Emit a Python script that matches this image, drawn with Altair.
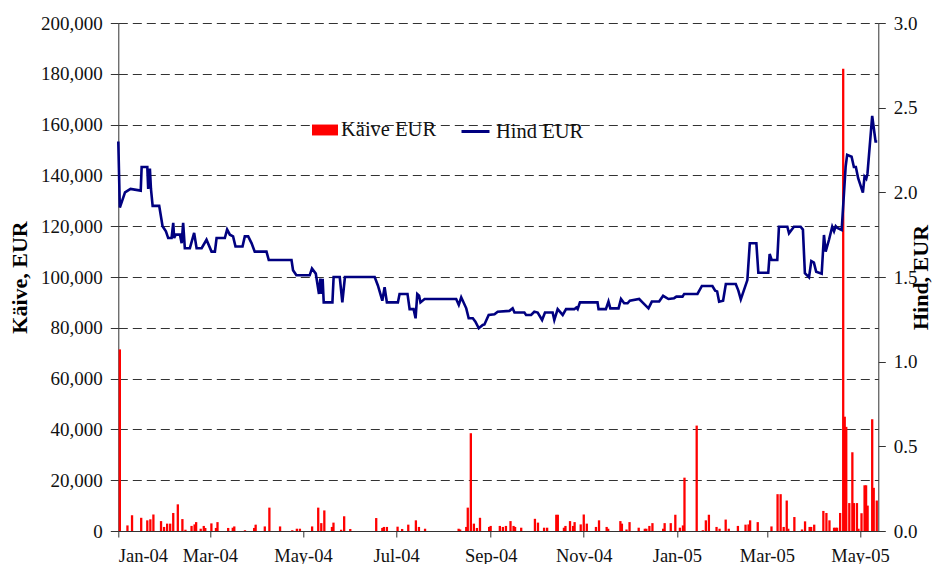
import altair as alt
import pandas as pd

START = "2004-01-01"

# Daily turnover (Käive EUR): day offset from 2004-01-01 and value
bar_day = [1, 6, 9, 15, 19, 21, 23, 28, 30, 32, 34, 36, 39, 42, 44, 48, 50, 51, 54, 56,
           57, 61, 64, 65, 72, 75, 76, 83, 89, 90, 96, 99, 106, 114, 117, 119, 127, 131, 133, 135,
           140, 141, 146, 148, 152, 169, 173, 174, 176, 183, 186, 190, 195, 197, 201, 223, 224, 228, 229, 231,
           233, 235, 237, 243, 244, 250, 252, 254, 257, 259, 260, 264, 273, 275, 279, 281, 287, 288, 292, 293,
           296, 298, 299, 303, 305, 307, 313, 315, 320, 321, 329, 330, 333, 335, 341, 345, 346, 348, 350, 357,
           358, 362, 365, 368, 370, 371, 379, 383, 385, 387, 392, 394, 398, 400, 406, 411, 413, 414, 419, 428,
           432, 434, 436, 438, 439, 443, 448, 450, 453, 454, 456, 462, 464, 466, 469, 470, 471, 473, 475, 476,
           477, 479, 481, 482, 484, 485, 487, 489, 490, 491, 494, 495, 497]
bar_value = [71500, 2200, 6200, 5200, 4200, 4600, 6500, 3900, 1600, 2900, 2900, 7100, 10500, 4700, 500, 2000, 2600, 3500, 900, 2000,
             1200, 3000, 1200, 3500, 1200, 1300, 1800, 300, 1200, 2500, 1800, 9200, 1800, 300, 900, 900, 1800, 9200, 3100, 8100,
             1600, 3300, 500, 5800, 800, 5100, 1200, 1600, 1600, 1700, 800, 2500, 4200, 1600, 900, 900, 600, 1600, 9200, 38500,
             2900, 1200, 5200, 1600, 2000, 2000, 1600, 2000, 3900, 2000, 1600, 1300, 4800, 3300, 1300, 1300, 6400, 6400, 1300, 2000,
             3900, 2000, 3500, 2600, 6500, 2900, 1600, 4200, 1600, 900, 3900, 2900, 600, 3500, 1300, 900, 900, 2000, 3100, 900,
             3100, 3100, 6400, 1300, 2200, 21000, 41500, 300, 4200, 6400, 1600, 900, 4500, 900, 2000, 2500, 2600, 4200, 3500, 1800,
             14500, 14500, 1600, 12000, 900, 5500, 600, 3800, 1600, 1600, 2500, 7900, 7100, 4200, 1300, 1300, 1300, 7100, 182000, 45000,
             41000, 11000, 31000, 11000, 11000, 900, 7000, 18000, 18000, 10000, 44000, 17000, 12000]

# Price (Hind EUR): day offset from 2004-01-01 and price
price_day = [0, 1, 4.4, 8, 14.7, 15.3, 19, 19.6, 20.7, 21.4, 22.5, 26.8, 29, 31.2, 32.7, 34.9, 36, 36.6, 37.6, 40.4,
             41.5, 42.5, 43.6, 46.9, 49.7, 51.3, 54.6, 57.8, 61.1, 63.3, 64.4, 69.8, 71.3, 73.1, 75.2, 76.8, 81.4, 82.9, 85.1, 87.3,
             89.4, 97.1, 98.6, 113.5, 114.5, 116.7, 125.4, 126.9, 129.4, 131.5, 132.4, 133.3, 133.9, 134.6, 140.3, 141.1, 145.1, 146.8, 148.5, 168,
             170.1, 173, 174.5, 176, 183.2, 184.3, 189.5, 190.9, 193.5, 194.8, 195.9, 197.1, 198, 200.7, 221.4, 223.1, 224.7, 228, 229.6, 232.3,
             234, 236.2, 238.8, 239.9, 242.7, 246.5, 248.6, 256.3, 258.4, 259.6, 266.1, 267.2, 270.5, 272.6, 274.8, 277.7, 279.6, 284.6, 285.7, 287.9,
             291.2, 293.4, 298.8, 300.1, 301, 302.5, 314, 314.7, 319.5, 321.2, 322.4, 327.8, 329.4, 331.5, 333.7, 335.2, 341.3, 343.5, 347.4, 349.6,
             354.4, 357, 360.5, 364.2, 365.7, 369.7, 370.8, 379.5, 382.4, 389.3, 391.1, 392.4, 393.7, 396.3, 398.1, 404.6, 406.3, 407.9, 412.2, 413.8,
             418.1, 419.4, 425.9, 426.8, 428.2, 431.8, 432.9, 438.4, 439.5, 442.7, 447.1, 448.6, 449.9, 452.6, 454.1, 455.8, 457.3, 460.9, 462.4, 463.5,
             465.7, 467.8, 469, 470.1, 471.2, 474, 476.6, 477.6, 480.5, 482, 483.3, 484.8, 487.9, 489, 490.1, 490.9, 494, 496.2, 497.3]
price_value = [2.30, 1.91, 2.00, 2.02, 2.01, 2.15, 2.15, 2.02, 2.14, 2.02, 1.92, 1.92, 1.80, 1.77, 1.73, 1.73, 1.82, 1.73, 1.75, 1.75,
               1.70, 1.82, 1.67, 1.67, 1.76, 1.67, 1.67, 1.72, 1.65, 1.65, 1.73, 1.73, 1.78, 1.75, 1.74, 1.68, 1.68, 1.74, 1.74, 1.70,
               1.65, 1.65, 1.60, 1.60, 1.54, 1.51, 1.51, 1.55, 1.52, 1.40, 1.49, 1.40, 1.49, 1.35, 1.35, 1.50, 1.50, 1.35, 1.50, 1.50,
               1.45, 1.36, 1.44, 1.35, 1.35, 1.40, 1.40, 1.31, 1.31, 1.256, 1.40, 1.39, 1.35, 1.37, 1.37, 1.335, 1.38, 1.315, 1.256, 1.256,
               1.236, 1.197, 1.217, 1.22, 1.276, 1.28, 1.295, 1.30, 1.315, 1.29, 1.29, 1.276, 1.276, 1.295, 1.29, 1.246, 1.29, 1.29, 1.246, 1.31,
               1.276, 1.31, 1.31, 1.32, 1.31, 1.35, 1.35, 1.31, 1.31, 1.355, 1.315, 1.315, 1.37, 1.345, 1.345, 1.36, 1.37, 1.35, 1.315, 1.355,
               1.355, 1.389, 1.37, 1.375, 1.384, 1.384, 1.40, 1.40, 1.447, 1.447, 1.419, 1.415, 1.354, 1.36, 1.459, 1.459, 1.42, 1.368, 1.482, 1.699,
               1.699, 1.525, 1.525, 1.636, 1.60, 1.60, 1.797, 1.797, 1.758, 1.797, 1.797, 1.78, 1.522, 1.498, 1.594, 1.585, 1.531, 1.52, 1.748, 1.65,
               1.72, 1.797, 1.77, 1.80, 1.79, 1.778, 2.152, 2.221, 2.21, 2.15, 2.15, 2.083, 1.998, 2.093, 2.08, 2.11, 2.451, 2.30, 2.30]

tick_months = [(2004, 1), (2004, 3), (2004, 5), (2004, 7), (2004, 9), (2004, 11),
               (2005, 1), (2005, 3), (2005, 5)]
left_ticks = [0, 20000, 40000, 60000, 80000, 100000, 120000, 140000, 160000, 180000, 200000]
right_ticks = [0, 0.5, 1.0, 1.5, 2.0, 2.5, 3.0]

start = pd.Timestamp(START)
bars = pd.DataFrame({
    "date": start + pd.to_timedelta(bar_day, unit="D"),
    "value": bar_value,
    "s1": "Käive EUR",
})
line = pd.DataFrame({
    "date": start + pd.to_timedelta(price_day, unit="D"),
    "price": price_value,
    "s2": "Hind EUR",
    "ord": list(range(len(price_day))),
})

FONT = "Liberation Serif"
xscale = alt.Scale(domain=[alt.DateTime(year=2004, month=1, date=1),
                           alt.DateTime(year=2005, month=5, date=13)], padding=0)
xaxis = alt.Axis(values=[alt.DateTime(year=y, month=m, date=1) for y, m in tick_months],
                 format="%b-%y", title=None, grid=False, labelFont=FONT, labelFontSize=18.5,
                 labelColor="#111", tickSize=6, tickColor="#333", domainColor="#333",
                 labelPadding=9, labelOverlap=False)

bar_layer = alt.Chart(bars).mark_bar(size=2.3).encode(
    x=alt.X("date:T", scale=xscale, axis=xaxis),
    y=alt.Y("value:Q", scale=alt.Scale(domain=[0, 200000], nice=False),
            axis=alt.Axis(values=left_ticks, format=",d", title="Käive, EUR",
                          labelFont=FONT, labelFontSize=19, labelColor="#111",
                          titleFont=FONT, titleFontSize=22, titleFontWeight="bold",
                          titleColor="#000", titlePadding=9,
                          tickSize=8, tickColor="#333", domainColor="#333", labelPadding=8,
                          grid=True, gridDash=[9, 5], gridColor="#333", gridWidth=1)),
    color=alt.Color("s1:N", scale=alt.Scale(domain=["Käive EUR"], range=["#ff0000"]),
                    legend=alt.Legend(title=None, orient="none", legendX=193.7, legendY=94,
                                      padding=0, symbolType="M-1,-0.42H1V0.42H-1Z",
                                      symbolSize=676, symbolStrokeWidth=0, labelOffset=3,
                                      labelFont=FONT, labelFontSize=20.5, labelColor="#111")),
)

line_layer = alt.Chart(line).mark_line(strokeWidth=2.6).encode(
    x=alt.X("date:T", scale=xscale),
    y=alt.Y("price:Q", scale=alt.Scale(domain=[0, 3], nice=False),
            axis=alt.Axis(orient="right", values=right_ticks, format=".1f", title="Hind, EUR",
                          labelFont=FONT, labelFontSize=19, labelColor="#111",
                          titleFont=FONT, titleFontSize=22, titleFontWeight="bold",
                          titleColor="#000", titleAngle=270, titlePadding=15,
                          tickSize=7, tickColor="#333", domainColor="#333", labelPadding=8,
                          grid=False)),
    order=alt.Order("ord:Q"),
    stroke=alt.Stroke("s2:N", scale=alt.Scale(domain=["Hind EUR"], range=["#000080"]),
                      legend=alt.Legend(title=None, orient="none", legendX=341.7, legendY=93,
                                        padding=0, symbolType="stroke", symbolSize=784,
                                        symbolStrokeWidth=3, labelOffset=5,
                                        labelFont=FONT, labelFontSize=20.5, labelColor="#111")),
)

chart = alt.layer(bar_layer, line_layer).resolve_scale(
    y="independent", color="independent", stroke="independent"
).properties(
    width=760, height=508,
    autosize=alt.AutoSizeParams(type="none"),
    padding={"left": 110.3, "top": 15, "right": 56.7, "bottom": 33},
    background="white",
).configure_view(stroke=None)

chart.save("out.html", embed_options={"renderer": "svg", "actions": False})
